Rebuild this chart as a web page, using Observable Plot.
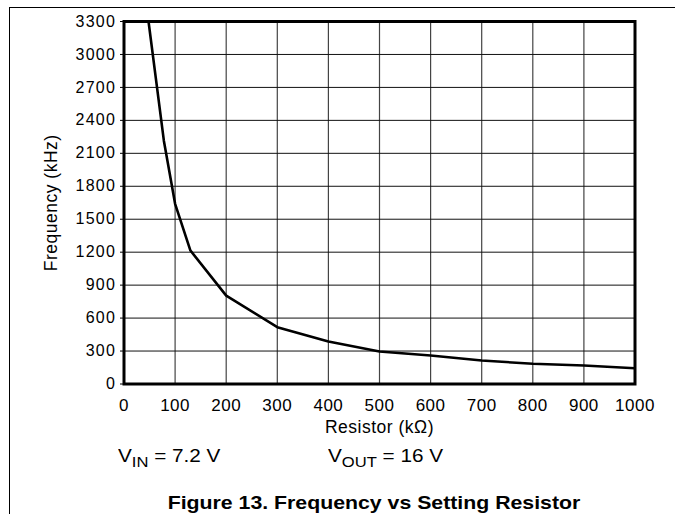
<!DOCTYPE html>
<html>
<head>
<meta charset="utf-8">
<script src="https://cdn.jsdelivr.net/npm/d3@7"></script>
<script src="https://cdn.jsdelivr.net/npm/@observablehq/plot@0.6"></script>
<style>
  html, body { margin: 0; padding: 0; background: #fff; overflow: hidden; }
  #wrap { position: relative; width: 675px; height: 514px; overflow: hidden; background: #fff;
          font-family: "Liberation Sans", Arial, Helvetica, sans-serif; color: #000; }
  #border { position: absolute; left: 9.3px; top: 7.4px; width: 700px; height: 600px;
            border-top: 1.4px solid #000; border-left: 1.4px solid #000; }
  #chart { position: absolute; left: 0; top: 0; }
  .note { position: absolute; font-size: 18.5px; line-height: 18.5px; white-space: nowrap;
          transform-origin: left center; transform: scaleX(1.12); }
  .note .sub { position: relative; top: 5px; font-size: 0.8em; }
  #title { position: absolute; left: 373.5px; top: 494.3px; font-size: 18.5px; line-height: 18.5px;
           font-weight: bold; white-space: nowrap; transform: translateX(-50%) scaleX(1.15); }
  g[aria-label="y-axis tick label"] text { letter-spacing: 1.2px; }
  g[aria-label="x-axis tick label"] text { letter-spacing: 0.5px; }
  g[aria-label="text"] text { letter-spacing: 0.5px; }
</style>
</head>
<body>
<div id="wrap">
  <div id="border"></div>
  <div id="chart"></div>
  <div class="note" style="left:118px; top:446.6px;">V<span class="sub">IN</span> = 7.2 V</div>
  <div class="note" style="left:328px; top:446.6px;">V<span class="sub">OUT</span> = 16 V</div>
  <div id="title">Figure 13. Frequency vs Setting Resistor</div>
</div>
<script>
const resistor  = [48, 78, 100, 130, 200, 300, 400, 500, 600, 700, 800, 900, 1000];
const frequency = [3300, 2215, 1640, 1215, 805, 517, 387, 296, 259, 214, 184, 168, 144];
const xTicks = [0, 100, 200, 300, 400, 500, 600, 700, 800, 900, 1000];
const yTicks = [0, 300, 600, 900, 1200, 1500, 1800, 2100, 2400, 2700, 3000, 3300];
const xLabel = "Resistor (kΩ)";
const yLabel = "Frequency (kHz)";

const data = resistor.map((r, i) => ({r, f: frequency[i]}));

const chart = Plot.plot({
  width: 675,
  height: 440,
  marginLeft: 123.5,
  marginRight: 40.5,
  marginTop: 21,
  marginBottom: 56.5,
  style: {fontFamily: "'Liberation Sans', Arial, Helvetica, sans-serif", color: "#000", background: "transparent", overflow: "visible"},
  x: {domain: [0, 1000]},
  y: {domain: [0, 3300]},
  marks: [
    Plot.gridX(xTicks, {stroke: "#444", strokeOpacity: 1, strokeWidth: 1.2}),
    Plot.gridY(yTicks, {stroke: "#111", strokeOpacity: 1, strokeWidth: 1}),
    Plot.axisX(xTicks, {tickSize: 0, tickPadding: 15, fontSize: 17, label: null, tickFormat: d => `${d}`}),
    Plot.axisY(yTicks, {tickSize: 3.5, tickPadding: 4.5, fontSize: 16, label: null, tickFormat: d => `${d}`}),
    Plot.line(data, {x: "r", y: "f", stroke: "#000", strokeWidth: 2.6, clip: true}),
    Plot.frame({stroke: "#000", strokeWidth: 3}),
    Plot.text([xLabel], {text: d => d, frameAnchor: "bottom", lineAnchor: "middle", textAnchor: "middle", dy: 43, fontSize: 17.5}),
    Plot.text([yLabel], {text: d => d, frameAnchor: "left", lineAnchor: "middle", textAnchor: "middle", rotate: -90, dx: -73, fontSize: 17.5})
  ]
});
document.getElementById("chart").appendChild(chart);
</script>
</body>
</html>
